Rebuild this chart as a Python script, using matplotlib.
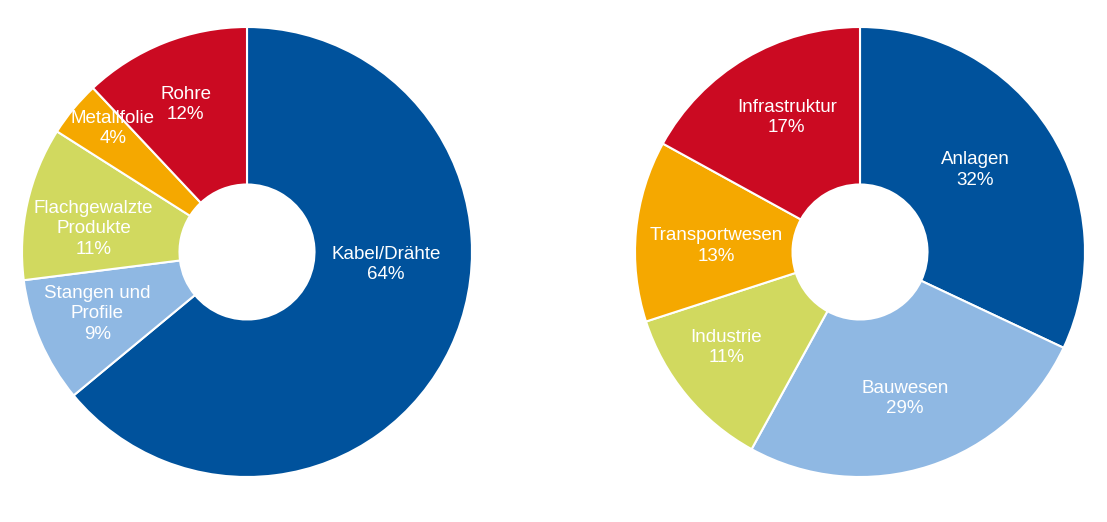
import numpy as np
import matplotlib.pyplot as plt

plt.rcParams['font.family'] = ['Liberation Sans', 'DejaVu Sans']

# left donut: Produkte
left_labels = ['Kabel/Drähte', 'Stangen und\nProfile', 'Flachgewalzte\nProdukte',
               'Metallfolie', 'Rohre']
left_shares = [64, 9, 11, 4, 12]
left_pct = ['64%', '9%', '11%', '4%', '12%']

# right donut: Anwendungen (wedge sizes as drawn, labels as printed)
right_labels = ['Anlagen', 'Bauwesen', 'Industrie', 'Transportwesen', 'Infrastruktur']
right_shares = [32, 26, 12, 13, 17]
right_pct = ['32%', '29%', '11%', '13%', '17%']

colors = ['#00529c', '#8fb8e3', '#d1d95f', '#f5a800', '#cb0a22']

# label placement: radius (fraction of outer radius) and angle shift in degrees
left_label_r = [0.62, 0.72, 0.69, 0.81, 0.71]
left_label_shift = [20, -1, 4, -3, 1]
right_label_r = [0.63, 0.68, 0.73, 0.64, 0.68]
right_label_shift = [3, -1, -4, 3, -2]

W, H = 1107, 522
fig = plt.figure(figsize=(W / 100, H / 100), dpi=100)


def donut(cx, cy, r, shares, labels, pct, label_r, label_shift):
    ax = fig.add_axes([(cx - r) / W, (H - cy - r) / H, 2 * r / W, 2 * r / H])
    wedges, _ = ax.pie(shares, colors=colors, startangle=90, counterclock=False,
                       radius=1, wedgeprops=dict(width=0.70, edgecolor='white',
                                                 linewidth=1.5))
    for w, lab, p, lr, sh in zip(wedges, labels, pct, label_r, label_shift):
        ang = np.deg2rad((w.theta1 + w.theta2) / 2 + sh)
        ax.text(lr * np.cos(ang), lr * np.sin(ang), lab + '\n' + p,
                ha='center', va='center', color='white', fontsize=13.5,
                linespacing=1.27)
    ax.set_xlim(-1, 1)
    ax.set_ylim(-1, 1)
    ax.axis('off')
    return ax


donut(247, 252, 225, left_shares, left_labels, left_pct, left_label_r, left_label_shift)
donut(860, 252, 225, right_shares, right_labels, right_pct, right_label_r,
      right_label_shift)

fig.savefig('out.png', dpi=100, facecolor='white')
